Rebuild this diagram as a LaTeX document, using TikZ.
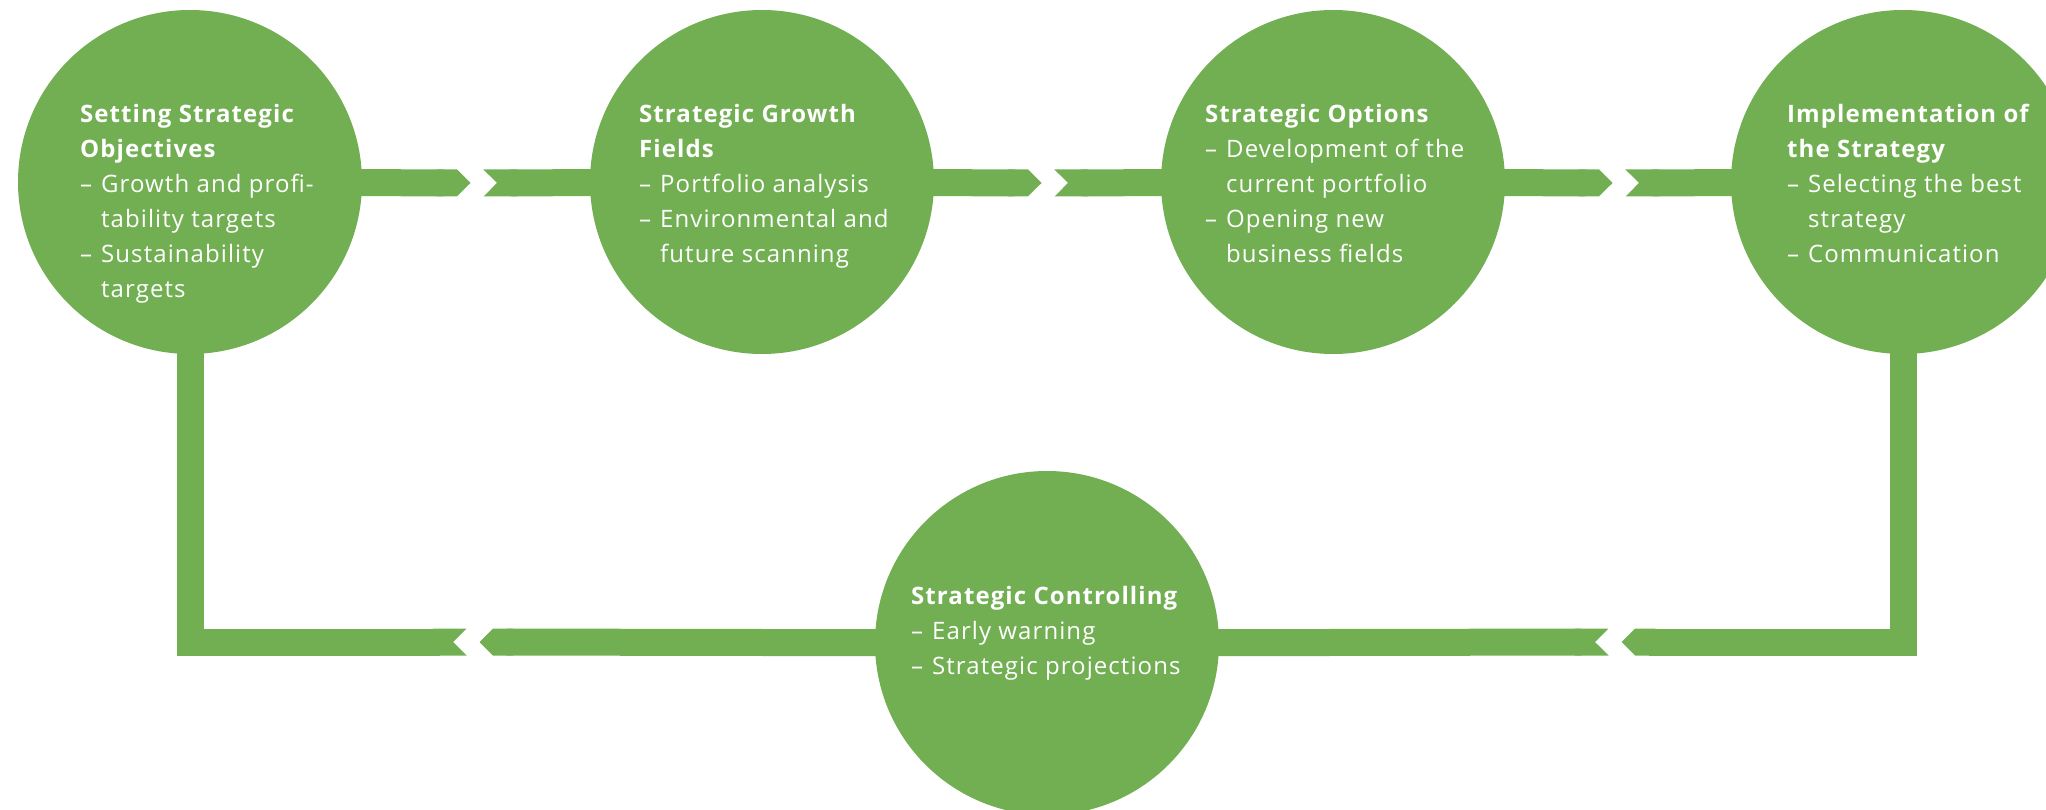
\documentclass[tikz,border=0pt]{standalone}
\usepackage{fontspec}
\setmainfont{Open Sans}[LetterSpace=4.5]
\usetikzlibrary{arrows.meta}

\definecolor{leaf}{RGB}{114,175,83}
% list dash and the indent of a wrapped list line
\newcommand\dashitem{\makebox[21pt][l]{–}}
\newcommand\dashcont{\hspace*{21pt}}

\begin{document}
\begin{tikzpicture}[x=1pt,y=-1pt,
    stage/.style={circle,fill=leaf,minimum size=344pt,inner sep=0pt},
    band/.style={draw=leaf,line width=27pt},
    stagetext/.style={text=white,font=\fontsize{24}{35}\selectfont,
      align=left,inner sep=0pt,anchor=base west}]
  \useasboundingbox (0,0) rectangle (2046,810);

  % the five stages
  \node[stage] (obj)  at (190,182) {};
  \node[stage] (grow) at (762,182) {};
  \node[stage] (opt)  at (1333,182) {};
  \node[stage] (impl) at (1903,182) {};
  \node[stage] (ctrl) at (1047,643) {};

  % gaps in the bands
  \coordinate (t1) at (477,183);
  \coordinate (t2) at (1048,183);
  \coordinate (t3) at (1619,183);
  \coordinate (b1) at (473,642);
  \coordinate (b3) at (1615,642);

  % top row, left to right
  \draw[band,-{Triangle Cap}] (obj.center) -- ([xshift=-6.5]t1);
  \draw[band,{Triangle Cap[reversed]}-] ([xshift=6.5]t1) -- (grow.center);
  \draw[band,-{Triangle Cap}] (grow.center) -- ([xshift=-6.5]t2);
  \draw[band,{Triangle Cap[reversed]}-] ([xshift=6.5]t2) -- (opt.center);
  \draw[band,-{Triangle Cap}] (opt.center) -- ([xshift=-6.5]t3);
  \draw[band,{Triangle Cap[reversed]}-] ([xshift=6.5]t3) -- (impl.center);

  % loop back along the bottom
  \draw[band,-{Triangle Cap}] (impl.center) |- ([xshift=6.5]b3);
  \draw[band,{Triangle Cap[reversed]}-] ([xshift=-6.5]b3) -- (ctrl.center);
  \draw[band,-{Triangle Cap}] (ctrl.center) -- ([xshift=6.5]b1);
  \draw[band,{Triangle Cap[reversed]}-] ([xshift=-6.5]b1) -| (obj.center);

  % texts, placed by the baseline of their last line
  \node[stagetext] (obj-text) at (80,298)
    {\textbf{Setting Strategic}\\\textbf{Objectives}\\
     \dashitem Growth and profi-\\\dashcont tability targets\\
     \dashitem Sustainability\\\dashcont targets};
  \node[stagetext] (grow-text) at (639,263)
    {\textbf{Strategic Growth}\\\textbf{Fields}\\
     \dashitem Portfolio analysis\\
     \dashitem Environmental and\\\dashcont future scanning};
  \node[stagetext] (opt-text) at (1205,263)
    {\textbf{Strategic Options}\\
     \dashitem Development of the\\\dashcont current portfolio\\
     \dashitem Opening new\\\dashcont business fields};
  \node[stagetext] (impl-text) at (1787,263)
    {\textbf{Implementation of}\\\textbf{the Strategy}\\
     \dashitem Selecting the best\\\dashcont strategy\\
     \dashitem Communication};
  \node[stagetext] (ctrl-text) at (911,674)
    {\textbf{Strategic Controlling}\\
     \dashitem Early warning\\
     \dashitem Strategic projections};
\end{tikzpicture}
\end{document}
